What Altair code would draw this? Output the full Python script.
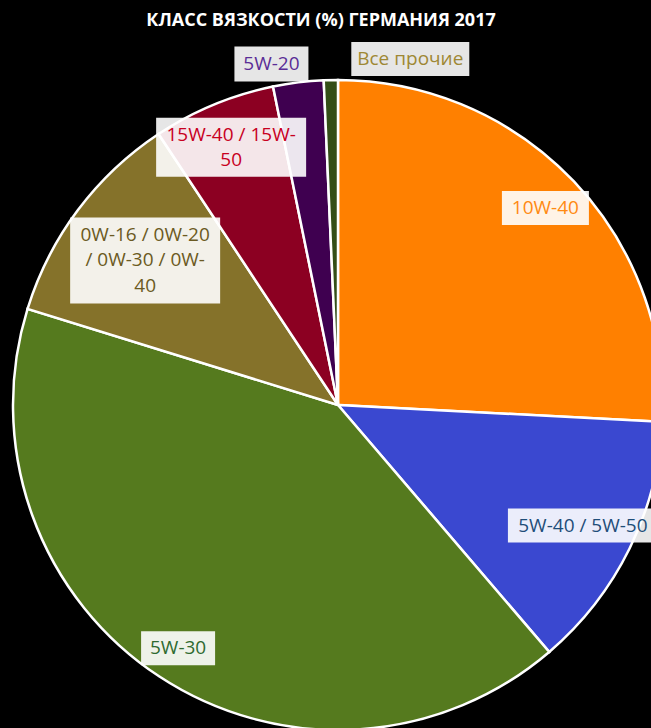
import math
import altair as alt
import pandas as pd

# ---- data ----
categories = ["10W-40", "5W-40 / 5W-50", "5W-30", "0W-16 / 0W-20 / 0W-30 / 0W-40",
              "15W-40 / 15W-50", "5W-20", "Все прочие"]
shares = [25.8, 12.9, 41.0, 10.9, 6.1, 2.5, 0.7]
label_lines = [["10W-40"], ["5W-40 / 5W-50"], ["5W-30"],
               ["0W-16 / 0W-20", "/ 0W-30 / 0W-", "40"],
               ["15W-40 / 15W-", "50"], ["5W-20"], ["Все прочие"]]
title_text = "КЛАСС ВЯЗКОСТИ (%) ГЕРМАНИЯ 2017"

# ---- styles / layout ----
slice_colors = ["#FF8000", "#3A48D0", "#557A1E", "#85722A", "#8C0022", "#3F0050", "#344E17"]
text_colors = ["#FF8A12", "#1F4E79", "#2F6A30", "#6B5A22", "#C8001E", "#5A2D96", "#9E8834"]
CX, CY, R = 338, 405, 325
LINE_H = 25.5
label_radius = [286, 273, 291, 241, 279, 348, 350]
label_nudge_x = [0, 0, 0, 0, 0, -24, 80]
label_nudge_y = [0, 0, 0, 0, 0, 4.5, 4]
box_w = [87, 150, 74, 150, 150, 74, 118]
box_h = [34, 34, 34, 86, 59, 35, 34]

total = sum(shares)
rows = []
cum = 0.0
for i, (c, v) in enumerate(zip(categories, shares)):
    mid = (cum + v / 2) / total * 2 * math.pi
    cum += v
    lx = CX + label_radius[i] * math.sin(mid) + label_nudge_x[i]
    ly = CY - label_radius[i] * math.cos(mid) + label_nudge_y[i]
    n = len(label_lines[i])
    rows.append(dict(idx=i, category=c, share=v, lines=label_lines[i],
                     tcolor=text_colors[i], lx=lx, ly=ly,
                     ty=ly - (n - 1) / 2 * LINE_H,
                     bx1=lx - box_w[i] / 2, bx2=lx + box_w[i] / 2,
                     by1=ly - box_h[i] / 2, by2=ly + box_h[i] / 2))
df = pd.DataFrame(rows)

base = alt.Chart(df)

pie = base.mark_arc(outerRadius=R, stroke="white", strokeWidth=2.5).encode(
    theta=alt.Theta("share:Q", stack=True),
    color=alt.Color("category:N", scale=alt.Scale(domain=categories, range=slice_colors), legend=None),
    order=alt.Order("idx:Q"),
    x=alt.value(CX),
    y=alt.value(CY),
)

boxes = base.mark_rect(fill="white", opacity=0.9).encode(
    x=alt.X("bx1:Q", scale=None, axis=None),
    x2="bx2:Q",
    y=alt.Y("by1:Q", scale=None, axis=None),
    y2="by2:Q",
)

labels = base.mark_text(font="Open Sans", fontSize=19, lineHeight=LINE_H,
                        align="center", baseline="middle").encode(
    x=alt.X("lx:Q", scale=None, axis=None),
    y=alt.Y("ty:Q", scale=None, axis=None),
    text=alt.Text("lines:N"),
    color=alt.Color("tcolor:N", scale=None),
)

title = alt.Chart(pd.DataFrame({"t": [title_text]})).mark_text(
    font="Open Sans", fontSize=18, fontWeight="bold", color="white",
    align="center", baseline="middle").encode(
    x=alt.value(321), y=alt.value(21), text="t:N")

chart = alt.layer(pie, boxes, labels, title).properties(
    width=651, height=728, background="black", padding=0,
    autosize=alt.AutoSizeParams(type="none"),
).configure_view(stroke=None)

chart.save("out.html", embed_options={"renderer": "svg", "actions": False})
